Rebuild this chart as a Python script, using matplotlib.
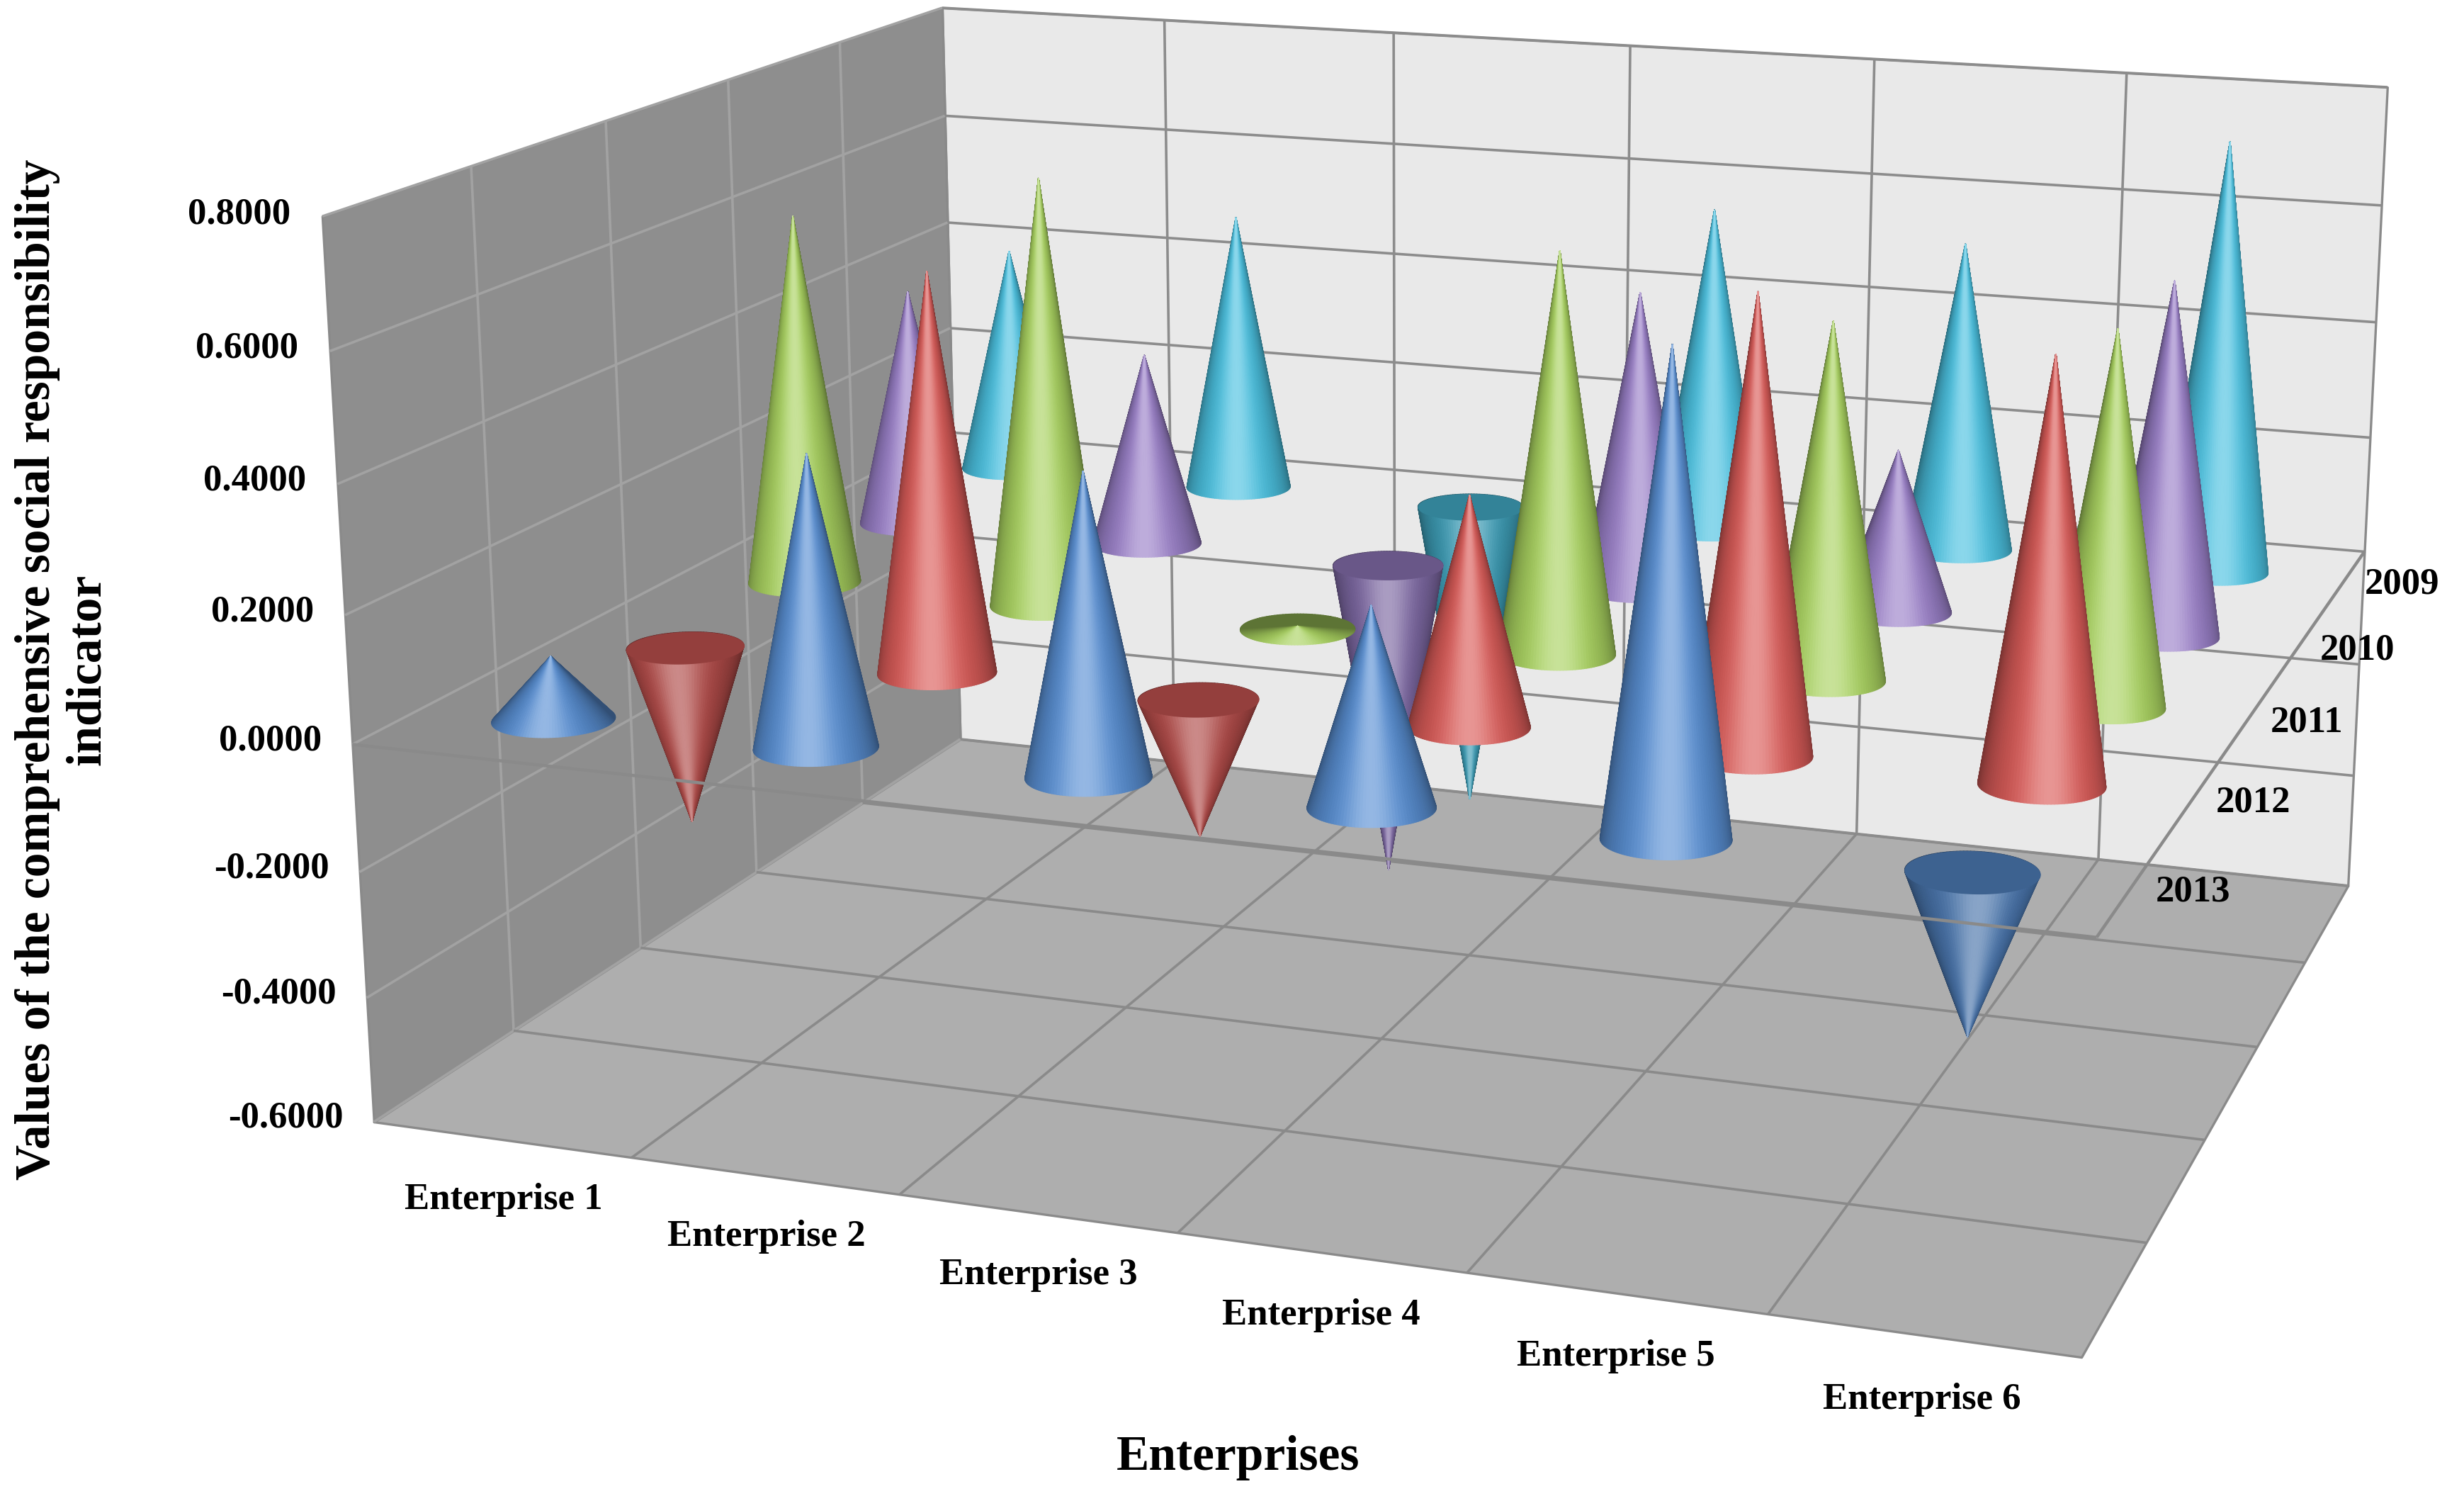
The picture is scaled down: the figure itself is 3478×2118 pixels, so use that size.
import numpy as np
import matplotlib.pyplot as plt
from matplotlib.colors import to_rgb
from mpl_toolkits.mplot3d.art3d import Poly3DCollection, Line3DCollection

enterprises = ['Enterprise 1', 'Enterprise 2', 'Enterprise 3',
               'Enterprise 4', 'Enterprise 5', 'Enterprise 6']
years = ['2009', '2010', '2011', '2012', '2013']

v2009 = [0.40, 0.49, -0.54, 0.56, 0.53, 0.73]
v2010 = [0.41, 0.33, -0.54, 0.50, 0.27, 0.58]
v2011 = [0.62, 0.71, 0.005, 0.65, 0.57, 0.59]
v2012 = [-0.29, 0.64, -0.22, 0.36, 0.70, 0.64]
v2013 = [0.10, 0.45, 0.46, 0.30, 0.71, -0.24]
values = [v2009, v2010, v2011, v2012, v2013]

colors = ['#4bc1e0', '#9a80c8', '#a9d260', '#da5c59', '#5a90d4']
zticks = [-0.6, -0.4, -0.2, 0.0, 0.2, 0.4, 0.6, 0.8]

ZMIN, ZMAX = -0.6, 0.8
NX, NY = len(enterprises), len(years)
AZIM, ELEV = -70.5, 15
BOX = (1.0, 0.81, 0.53)
RX = 0.21
RY = RX * (BOX[0] / NX) / (BOX[1] / NY)

plt.rcParams['font.family'] = ['Liberation Serif', 'DejaVu Serif']
plt.rcParams['font.weight'] = 'bold'

fig = plt.figure(figsize=(17.39, 10.59), dpi=200)
ax = fig.add_axes([0.096, 0.125, 0.95, 0.95], projection='3d', computed_zorder=False)
ax.set_xlim(0, NX)
ax.set_ylim(0, NY)
ax.set_zlim(ZMIN, ZMAX)
ax.view_init(elev=ELEV, azim=AZIM)
ax.set_proj_type('persp', focal_length=0.66)
ax.set_box_aspect(BOX, zoom=1.57)
ax.set_axis_off()


def add(art, zo):
    art.set_zorder(zo)
    art.set_clip_on(False)
    ax.add_collection3d(art)


# walls and floor
left_wall = [(0, 0, ZMIN), (0, NY, ZMIN), (0, NY, ZMAX), (0, 0, ZMAX)]
back_wall = [(0, NY, ZMIN), (NX, NY, ZMIN), (NX, NY, ZMAX), (0, NY, ZMAX)]
floor = [(0, 0, ZMIN), (NX, 0, ZMIN), (NX, NY, ZMIN), (0, NY, ZMIN)]
for verts, fc in [(back_wall, '#e9e9e9'), (left_wall, '#8e8e8e'), (floor, '#aeaeae')]:
    add(Poly3DCollection([verts], facecolors=fc, edgecolors='#8a8a8a', linewidths=1.2), 1)

# gridlines
seg_left = [[(0, 0, z), (0, NY, z)] for z in zticks] + \
           [[(0, y, ZMIN), (0, y, ZMAX)] for y in range(1, NY)]
seg_back = [[(0, NY, z), (NX, NY, z)] for z in zticks] + \
           [[(x, NY, ZMIN), (x, NY, ZMAX)] for x in range(1, NX)]
seg_floor = [[(x, 0, ZMIN), (x, NY, ZMIN)] for x in range(1, NX)] + \
            [[(0, y, ZMIN), (NX, y, ZMIN)] for y in range(1, NY)]
for segs, c in [(seg_back, '#8c8c8c'), (seg_left, '#a2a2a2'), (seg_floor, '#8a8a8a')]:
    add(Line3DCollection(segs, colors=c, linewidths=1.3), 2)

# cones, drawn back to front
az = np.deg2rad(AZIM)
th = np.linspace(0, 2 * np.pi, 121)
mid = 0.5 * (th[:-1] + th[1:])
face = np.clip(np.cos(mid - az), 0, 1)

cones = []
for j, yr in enumerate(years):
    for i in range(NX):
        xc, yc = i + 0.5, NY - 0.5 - j
        depth = (xc / NX * BOX[0]) * np.cos(az) + (yc / NY * BOX[1]) * np.sin(az)
        cones.append((depth, xc, yc, values[j][i], colors[j]))
cones.sort(key=lambda c: c[0])

for k, (depth, xc, yc, h, col) in enumerate(cones):
    base = np.array(to_rgb(col))
    if h < 0:
        base = base * 0.8
    shade = 0.55 + 0.45 * face
    fcs = base[None, :] * shade[:, None]
    fcs = fcs + (1 - fcs) * (0.35 * face ** 12)[:, None]
    fcs = np.clip(fcs, 0, 1)
    bx = xc + RX * np.cos(th)
    by = yc + RY * np.sin(th)
    tris = [[(bx[n], by[n], 0), (bx[n + 1], by[n + 1], 0), (xc, yc, h)] for n in range(len(mid))]
    add(Poly3DCollection(tris, facecolors=fcs, edgecolors=fcs, linewidths=0.6), 10 + 2 * k)
    if h < 0:
        disk = Poly3DCollection([list(zip(bx, by, np.zeros_like(bx)))],
                                facecolors=base * 0.85, edgecolors=base * 0.85, linewidths=0.6)
        add(disk, 11 + 2 * k)

# axis lines at zero
add(Line3DCollection([[(0, 0, 0), (NX, 0, 0)], [(NX, 0, 0), (NX, NY, 0)]],
                     colors='#8a8a8a', linewidths=1.6), 200)

# tick labels
for z in zticks:
    ax.text(-0.12, 0, z, f'{z:.4f}', ha='right', va='center', fontsize=19, zorder=300)
for i, name in enumerate(enterprises):
    ax.text(i + 0.5, 0, ZMIN - 0.07, name, ha='center', va='top', fontsize=19, zorder=300)
for j, yr in enumerate(years):
    ax.text(NX + 0.08, NY - 0.5 - j, 0, yr, ha='left', va='center', fontsize=19, zorder=300)

fig.text(0.0255, 0.554, 'Values of the comprehensive social responsibility\nindicator',
         rotation=90, ha='center', va='center', multialignment='center',
         fontsize=25, linespacing=1.15)
fig.text(0.5026, 0.029, 'Enterprises', ha='center', va='center', fontsize=25)

fig.savefig('out.png', dpi=200)
